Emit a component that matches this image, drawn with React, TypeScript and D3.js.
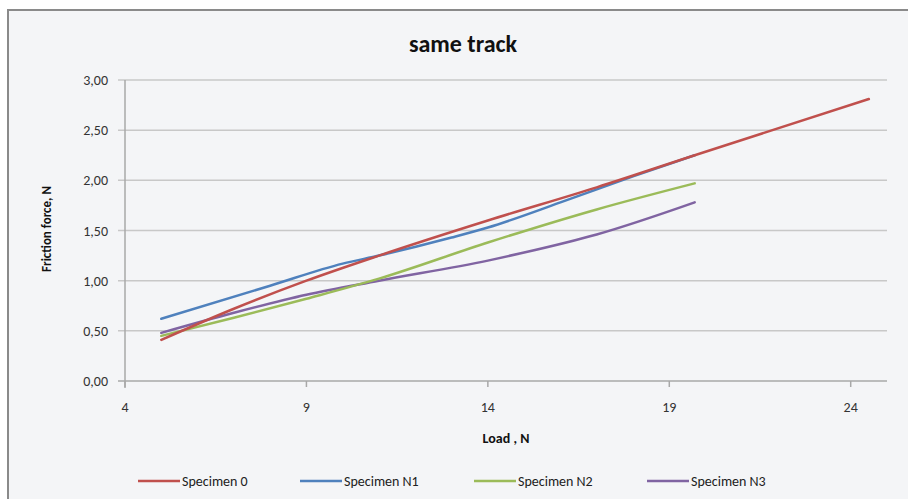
import React from "react";
import * as d3 from "d3";

const seriesNames = ["Specimen 0", "Specimen N1", "Specimen N2", "Specimen N3"];
const seriesColors = ["#c0504d", "#4f81bd", "#9bbb59", "#8064a2"];

const specimen0X = [5, 7, 9, 11, 14, 17, 19.7, 24.5];
const specimen0Y = [0.41, 0.72, 1.0, 1.25, 1.6, 1.93, 2.25, 2.81];
const specimenN1X = [5, 8, 10, 11, 13, 14, 16, 18, 19.7];
const specimenN1Y = [0.62, 0.95, 1.17, 1.25, 1.43, 1.53, 1.78, 2.04, 2.25];
const specimenN2X = [5, 7, 9, 11, 14, 17, 19.7];
const specimenN2Y = [0.45, 0.63, 0.82, 1.02, 1.38, 1.71, 1.97];
const specimenN3X = [5, 7, 9, 11, 14, 15, 17, 19.7];
const specimenN3Y = [0.48, 0.68, 0.86, 1.0, 1.2, 1.28, 1.46, 1.78];

const seriesX = [specimen0X, specimenN1X, specimenN2X, specimenN3X];
const seriesY = [specimen0Y, specimenN1Y, specimenN2Y, specimenN3Y];

const xTicks = [4, 9, 14, 19, 24];
const yTicks = [0, 0.5, 1, 1.5, 2, 2.5, 3];

const titleText = "same track";
const xTitle = "Load , N";
const yTitle = "Friction force, N";

const W = 908;
const H = 499;
const FONT = "Carlito, 'Liberation Sans Narrow', 'Open Sans', 'DejaVu Sans Condensed', sans-serif";

export default function App() {
  const x = d3.scaleLinear().domain([4, 25]).range([125, 887]);
  const y = d3.scaleLinear().domain([0, 3]).range([381, 80]);
  const line = d3
    .line<[number, number]>()
    .x((d) => x(d[0]))
    .y((d) => y(d[1]))
    .curve(d3.curveMonotoneX);
  const fmt = (v: number) => v.toFixed(2).replace(".", ",");

  const legendX = [138, 300, 474, 647];

  return (
    <svg
      width={W}
      height={H}
      style={{ position: "absolute", left: 0, top: 0, background: "#ffffff" }}
      fontFamily={FONT}
    >
      <rect x={0} y={0} width={W} height={H} fill="#ffffff" />
      <rect x={8} y={10} width={W + 10} height={H + 10} fill="#f4f5f7" stroke="#8a8a8a" strokeWidth={2} />
      <text x={463} y={52} textAnchor="middle" fontSize={24} fontWeight="bold" fill="#111">
        {titleText}
      </text>
      {yTicks.map((t) => (
        <g key={"y" + t}>
          <line x1={118} x2={887} y1={y(t)} y2={y(t)} stroke={t === 0 ? "#a8a8a8" : "#c8c8c8"} strokeWidth={1.5} />
          <text x={108} y={y(t) + 5} textAnchor="end" fontSize={14} fill="#333">
            {fmt(t)}
          </text>
        </g>
      ))}
      <line x1={125} x2={125} y1={80} y2={388} stroke="#a8a8a8" strokeWidth={1.5} />
      {xTicks.map((t) => (
        <g key={"x" + t}>
          <line x1={x(t)} x2={x(t)} y1={381} y2={387} stroke="#a8a8a8" strokeWidth={1.5} />
          <text x={x(t)} y={412} textAnchor="middle" fontSize={14} fill="#333">
            {t}
          </text>
        </g>
      ))}
      <text x={506} y={443} textAnchor="middle" fontSize={14} fontWeight="bold" fill="#111">
        {xTitle}
      </text>
      <text
        transform={`translate(51,229) rotate(-90)`}
        textAnchor="middle"
        fontSize={13}
        fontWeight="bold"
        fill="#111"
      >
        {yTitle}
      </text>
      {seriesNames.map((name, i) => {
        const pts = seriesX[i].map((v, j) => [v, seriesY[i][j]] as [number, number]);
        return (
          <path key={name} d={line(pts) || ""} fill="none" stroke={seriesColors[i]} strokeWidth={2.5} strokeLinecap="round" />
        );
      }).reverse()}
      {seriesNames.map((name, i) => (
        <g key={"lg" + name}>
          <line x1={legendX[i]} x2={legendX[i] + 42} y1={481} y2={481} stroke={seriesColors[i]} strokeWidth={2.5} />
          <text x={legendX[i] + 44} y={486} fontSize={14} fill="#222">
            {name}
          </text>
        </g>
      ))}
    </svg>
  );
}
